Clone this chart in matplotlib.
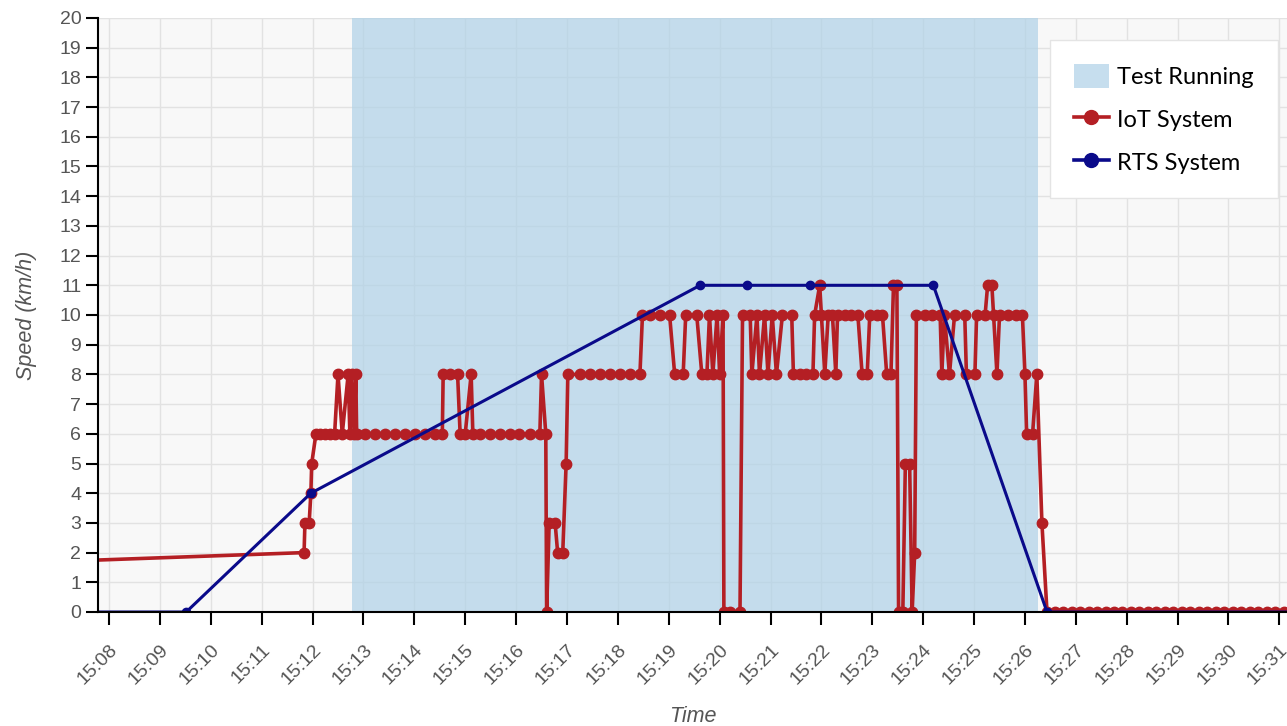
import matplotlib
matplotlib.use("Agg")
import matplotlib.pyplot as plt
import matplotlib.dates as mdates
import pandas as pd
from matplotlib.patches import Patch
from matplotlib.lines import Line2D

day = "2021-01-01 "

# test window
test_start = "15:12:46"
test_end = "15:26:15"

# RTS system (reference)
rts_time = ["15:07:00", "15:09:31", "15:11:58", "15:19:37", "15:20:32",
            "15:21:46", "15:24:12", "15:26:26", "15:31:40"]
rts_speed = [0, 0, 4, 11, 11, 11, 11, 0, 0]

# IoT system
iot_time = [
    "14:55:40", "15:11:50", "15:11:51", "15:11:56", "15:11:58", "15:11:59",
    "15:12:04", "15:12:09", "15:12:15", "15:12:21", "15:12:26",
    "15:12:30", "15:12:35", "15:12:42", "15:12:44", "15:12:46", "15:12:49",
    "15:12:51", "15:12:52",
    "15:13:02", "15:13:14", "15:13:25", "15:13:37", "15:13:49", "15:14:01",
    "15:14:12", "15:14:24", "15:14:33",
    "15:14:34", "15:14:42", "15:14:51", "15:14:54", "15:15:00", "15:15:07",
    "15:15:09",
    "15:15:17", "15:15:29", "15:15:41", "15:15:53", "15:16:04", "15:16:16",
    "15:16:28",
    "15:16:30", "15:16:35", "15:16:36", "15:16:39", "15:16:46", "15:16:49",
    "15:16:55", "15:16:59", "15:17:01",
    "15:17:15", "15:17:27", "15:17:39", "15:17:51", "15:18:02", "15:18:14",
    "15:18:26",
    "15:18:29", "15:18:38", "15:18:50", "15:19:01",
    "15:19:07", "15:19:17", "15:19:20", "15:19:33", "15:19:39", "15:19:45",
    "15:19:48", "15:19:52", "15:19:57", "15:20:00", "15:20:04",
    "15:20:05", "15:20:12", "15:20:24",
    "15:20:27", "15:20:36", "15:20:38", "15:20:44", "15:20:47", "15:20:53",
    "15:20:57", "15:21:02", "15:21:07", "15:21:14", "15:21:25",
    "15:21:27", "15:21:35", "15:21:42", "15:21:50",
    "15:21:52", "15:21:58", "15:22:00", "15:22:04", "15:22:08", "15:22:13",
    "15:22:17", "15:22:19", "15:22:28", "15:22:35", "15:22:43",
    "15:22:48", "15:22:54", "15:22:57", "15:23:05", "15:23:12",
    "15:23:17", "15:23:22", "15:23:25", "15:23:29",
    "15:23:31", "15:23:36", "15:23:39", "15:23:44", "15:23:47", "15:23:50",
    "15:23:52", "15:24:02", "15:24:10", "15:24:20",
    "15:24:22", "15:24:25", "15:24:31", "15:24:37", "15:24:49",
    "15:24:51", "15:25:01", "15:25:03", "15:25:13", "15:25:16", "15:25:21",
    "15:25:23", "15:25:27", "15:25:30", "15:25:40", "15:25:49", "15:25:57",
    "15:26:00", "15:26:02", "15:26:09", "15:26:14", "15:26:20", "15:26:26",
    "15:26:35", "15:26:45", "15:26:55", "15:27:05", "15:27:15", "15:27:25",
    "15:27:35", "15:27:45", "15:27:55", "15:28:05", "15:28:15", "15:28:25",
    "15:28:35", "15:28:45", "15:28:55", "15:29:05", "15:29:15", "15:29:25",
    "15:29:35", "15:29:45", "15:29:55", "15:30:05", "15:30:15", "15:30:25",
    "15:30:35", "15:30:45", "15:30:55", "15:31:05", "15:31:15",
]
iot_speed = [
    1, 2, 3, 3, 4, 5,
    6, 6, 6, 6, 6,
    8, 6, 8, 6, 8, 6,
    8, 6,
    6, 6, 6, 6, 6, 6,
    6, 6, 6,
    8, 8, 8, 6, 6, 8,
    6,
    6, 6, 6, 6, 6, 6,
    6,
    8, 6, 0, 3, 3, 2,
    2, 5, 8,
    8, 8, 8, 8, 8, 8,
    8,
    10, 10, 10, 10,
    8, 8, 10, 10, 8, 8,
    10, 8, 10, 8, 10,
    0, 0, 0,
    10, 10, 8, 10, 8, 10,
    8, 10, 8, 10, 10,
    8, 8, 8, 8,
    10, 11, 10, 8, 10, 10,
    8, 10, 10, 10, 10,
    8, 8, 10, 10, 10,
    8, 8, 11, 11,
    0, 0, 5, 5, 0, 2,
    10, 10, 10, 10,
    8, 10, 8, 10, 10,
    8, 8, 10, 10, 11, 11,
    10, 8, 10, 10, 10, 10,
    8, 6, 6, 8, 3, 0,
    0, 0, 0, 0, 0, 0,
    0, 0, 0, 0, 0, 0,
    0, 0, 0, 0, 0, 0,
    0, 0, 0, 0, 0, 0,
    0, 0, 0, 0, 0,
]

iot_t = pd.to_datetime([day + t for t in iot_time])
rts_t = pd.to_datetime([day + t for t in rts_time])

red = "#b41f24"
navy = "#0a0a8a"
shade = "#afd1e7"

plt.rcParams["font.family"] = ["Liberation Sans", "DejaVu Sans"]

fig = plt.figure(figsize=(12.87, 7.26), dpi=100)
ax = fig.add_axes([98 / 1287, 1 - 612 / 726, 1 - 98 / 1287, (612 - 18) / 726])
ax.set_facecolor("#f8f8f8")

ax.axvspan(pd.Timestamp(day + test_start), pd.Timestamp(day + test_end),
           color=shade, alpha=0.7, lw=0, zorder=1)

ax.plot(iot_t, iot_speed, color=red, lw=2.6, marker="o", ms=7.5, zorder=3)
ax.plot(rts_t, rts_speed, color=navy, lw=2.2, marker="o", ms=6, zorder=4)

ax.set_xlim(pd.Timestamp(day + "15:07:47"), pd.Timestamp(day + "15:31:09"))
ax.set_ylim(0, 20)
ax.set_yticks(range(0, 21))
ax.xaxis.set_major_locator(mdates.MinuteLocator())
ax.xaxis.set_major_formatter(mdates.DateFormatter("%H:%M"))

ax.grid(True, color="#e2e2e2", lw=1, zorder=0)
ax.set_axisbelow(True)

for s in ["top", "right"]:
    ax.spines[s].set_visible(False)
for s in ["left", "bottom"]:
    ax.spines[s].set_color("black")
    ax.spines[s].set_linewidth(1.5)
    ax.spines[s].set_zorder(5)

ax.tick_params(axis="y", direction="out", length=9, width=1.5,
               labelsize=14, labelcolor="#555555", pad=3)
ax.tick_params(axis="x", direction="out", length=9, width=1.5,
               labelsize=14, labelcolor="#555555", pad=12)
for lab in ax.get_xticklabels():
    lab.set_rotation(45)
    lab.set_ha("right")
    lab.set_va("top")
    lab.set_rotation_mode("anchor")

ax.set_ylabel("Speed (km/h)", fontsize=15.5, style="italic", color="#555555",
              labelpad=16)
ax.set_xlabel("Time", fontsize=15.5, style="italic", color="#555555",
              labelpad=13)

handles = [
    Patch(facecolor=shade, alpha=0.7, edgecolor="none"),
    Line2D([], [], color=red, lw=2.6, marker="o", ms=10),
    Line2D([], [], color=navy, lw=2.6, marker="o", ms=10),
]
leg = fig.legend(handles, ["Test Running", "IoT System", "RTS System"],
                 loc="upper left", bbox_to_anchor=(1050 / 1287, 1 - 40 / 726),
                 prop={"family": ["Lato", "DejaVu Sans"], "size": 17},
                 frameon=True, fancybox=False, edgecolor="#e4e4e4",
                 framealpha=1, borderpad=1.0, labelspacing=0.8,
                 handlelength=1.5, handleheight=1.2, handletextpad=0.35,
                 borderaxespad=0)
leg.get_frame().set_linewidth(1.0)

fig.savefig("out.png", dpi=100)
